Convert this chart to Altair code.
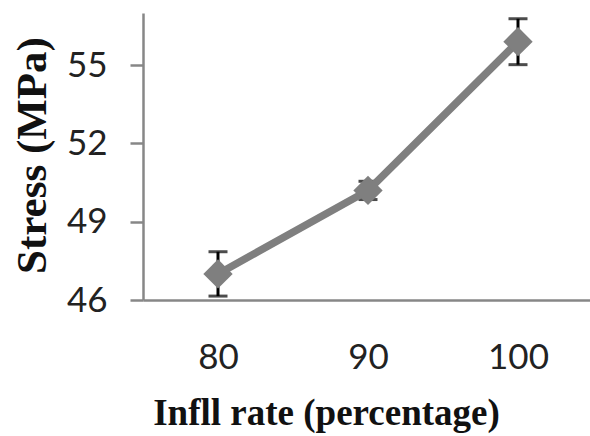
import altair as alt
import pandas as pd

# Tensile stress versus infill rate, with standard-deviation error bars
infill_rate = [80, 90, 100]
stress_mpa = [47.0, 50.2, 55.9]
stress_err = [0.85, 0.35, 0.88]

df = pd.DataFrame({"rate": infill_rate, "stress": stress_mpa, "err": stress_err})

AXIS_GRAY = "#878787"
LINE_GRAY = "#7f7f7f"
TICK_FONT = "Lato"
TITLE_FONT = "Liberation Serif"

x_enc = alt.X(
    "rate:Q",
    scale=alt.Scale(domain=[75, 104.8], nice=False, zero=False),
    axis=alt.Axis(
        values=infill_rate,
        title="Infll rate (percentage)",
        grid=False,
        ticks=False,
        domainColor=AXIS_GRAY,
        domainWidth=2.5,
        labelFont=TICK_FONT,
        labelFontSize=35,
        labelColor="#222222",
        labelPadding=40,
        titleFont=TITLE_FONT,
        titleFontSize=37,
        titleFontWeight="bold",
        titleColor="#111111",
        titleBaseline="alphabetic",
        titleX=183,
        titleY=124,
        titleAnchor="middle",
    ),
)

y_enc = alt.Y(
    "stress:Q",
    scale=alt.Scale(domain=[46, 57], nice=False, zero=False),
    axis=alt.Axis(
        values=[46, 49, 52, 55],
        title="Stress (MPa)",
        grid=False,
        tickSize=13,
        tickColor=AXIS_GRAY,
        tickWidth=2.5,
        domainColor=AXIS_GRAY,
        domainWidth=2.5,
        labelFont=TICK_FONT,
        labelFontSize=35,
        labelColor="#222222",
        labelPadding=23,
        titleFont=TITLE_FONT,
        titleFontSize=43,
        titleFontWeight="bold",
        titleColor="#111111",
        titleAngle=270,
        titleBaseline="alphabetic",
        titleX=-98,
        titleY=142,
    ),
)

base = alt.Chart(df).transform_calculate(
    lo="datum.stress - datum.err", hi="datum.stress + datum.err"
)

stems = base.mark_rule(color="black", strokeWidth=3).encode(
    x=x_enc, y=alt.Y("lo:Q"), y2="hi:Q"
)
caps_hi = base.mark_tick(color="black", size=19, thickness=3, orient="horizontal").encode(
    x=x_enc, y=alt.Y("hi:Q")
)
caps_lo = base.mark_tick(color="black", size=19, thickness=3, orient="horizontal").encode(
    x=x_enc, y=alt.Y("lo:Q")
)
line = base.mark_line(color=LINE_GRAY, strokeWidth=7.5).encode(x=x_enc, y=y_enc)
points = base.mark_point(
    shape="diamond", filled=True, size=860, color=LINE_GRAY, opacity=1
).encode(x=x_enc, y=y_enc)

chart = (
    alt.layer(stems, caps_hi, caps_lo, line, points)
    .properties(
        width=447,
        height=287,
        autosize=alt.AutoSizeParams(type="none"),
        padding={"left": 143, "top": 13, "right": 0, "bottom": 136},
        background="white",
    )
    .configure_view(stroke=None)
)

chart.save("out.html", embed_options={"renderer": "svg", "actions": False})
